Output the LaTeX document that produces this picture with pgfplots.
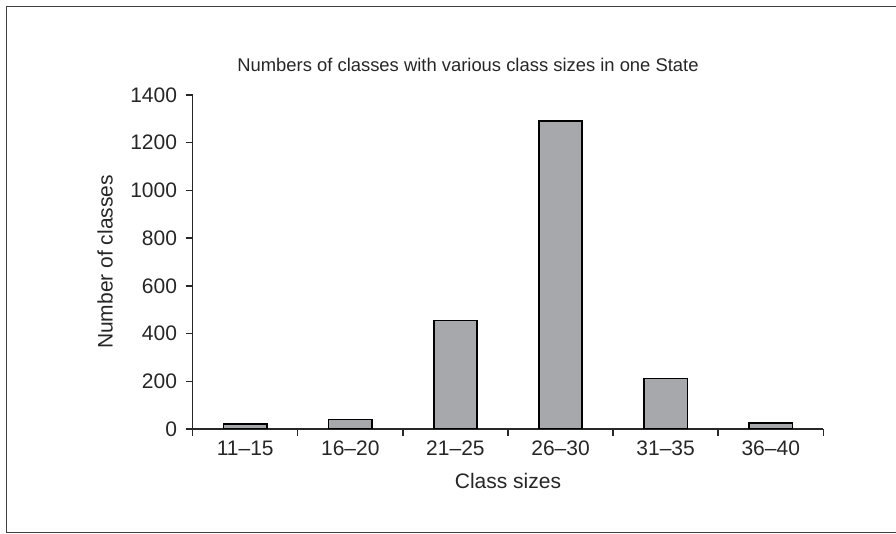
\documentclass[border=0pt]{standalone}
\usepackage{pgfplots}
\pgfplotsset{compat=1.18}
\usepackage{fontspec}
\setmainfont{Liberation Sans}
\definecolor{barfill}{RGB}{167,168,172}
\definecolor{axisgray}{RGB}{40,40,40}

\begin{document}
\begin{tikzpicture}
% page size: 1pt = 2px of the reference
\useasboundingbox (-96.35pt,-52.5pt) rectangle (351.65pt,214.5pt);
\draw[black!75, line width=0.75pt] (351.65pt,211.15pt) -- (-93.2pt,211.15pt) -- (-93.2pt,-51.85pt) -- (351.65pt,-51.85pt);
\begin{axis}[
    at={(0pt,0pt)}, anchor=south west,
    scale only axis, width=315.3pt, height=167pt,
    xmin=0, xmax=6, ymin=0, ymax=1400,
    axis lines=left,
    axis line style={-, axisgray, line width=0.7pt},
    tick align=outside,
    major tick length=3.5pt, minor tick length=3.5pt,
    tick style={axisgray, line width=0.7pt},
    xtick={0.5,1.5,2.5,3.5,4.5,5.5},
    xticklabels={11–15,16–20,21–25,26–30,31–35,36–40},
    major x tick style={draw=none},
    minor xtick={0,1,2,3,4,5,6},
    ytick={0,200,...,1400},
    scaled y ticks=false,
    /pgf/number format/1000 sep={},
    /pgf/number format/assume math mode=true,
    ticklabel style={font=\fontsize{10.5}{12}\selectfont, text=black!85},
    xticklabel style={anchor=base, yshift=-9.8pt},
    yticklabel style={anchor=east, xshift=-0.8pt},
    xlabel={Class sizes},
    ylabel={Number of classes},
    label style={font=\fontsize{10.5}{12}\selectfont, text=black!85},
    xlabel style={at={(axis description cs:0.5,-0.1775)}, anchor=base},
    ylabel style={at={(axis description cs:-0.127,0.5)}, anchor=base},
]
\addplot[ybar, bar width=0.415, fill=barfill, draw=black, line width=0.9pt]
    coordinates {(0.5,20)(1.5,40)(2.5,455)(3.5,1290)(4.5,212)(5.5,25)};
\end{axis}
\node[anchor=base, font=\fontsize{9.2}{11}\selectfont, text=black!85] at (137.65pt,178.65pt)
    {Numbers of classes with various class sizes in one State};
\end{tikzpicture}
\end{document}
